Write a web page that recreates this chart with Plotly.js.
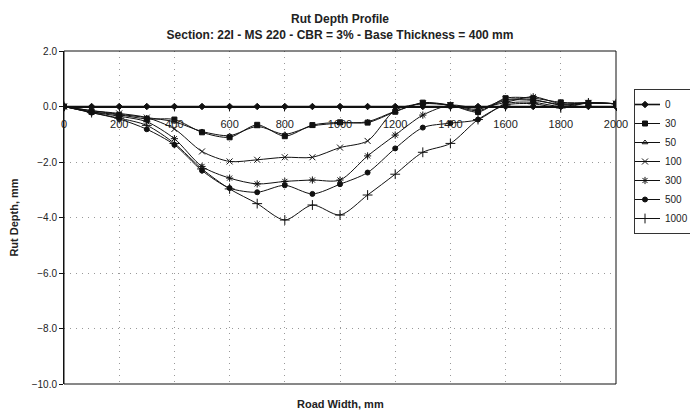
<!DOCTYPE html>
<html>
<head>
<meta charset="utf-8">
<script src="https://cdn.plot.ly/plotly-3.0.1.min.js"></script>
<style>html,body{margin:0;padding:0;background:#fff;}#chart{width:690px;height:415px;}</style>
</head>
<body>
<div id="chart"></div>
<script>
// Road width positions (mm)
const roadWidth = [0,100,200,300,400,500,600,700,800,900,1000,1100,1200,1300,1400,1500,1600,1700,1800,1900,2000];
// Rut depth (mm) for each number of passes
const rut0    = [0,0,0,0,0,0,0,0,0,0,0,0,0,0,0,0,0,0,0,0,0];
const rut30   = [0,-0.19,-0.3,-0.45,-0.47,-0.93,-1.11,-0.66,-1.07,-0.67,-0.57,-0.58,-0.19,0.14,0.05,-0.2,0.3,0.3,0.15,0.13,0.1];
const rut50   = [0,-0.15,-0.28,-0.4,-0.55,-0.9,-1.05,-0.72,-1.0,-0.7,-0.6,-0.55,-0.17,0.12,0.04,-0.15,0.22,0.22,0.08,0.13,0.1];
const rut100  = [0,-0.15,-0.25,-0.4,-0.81,-1.62,-1.98,-1.92,-1.83,-1.83,-1.48,-1.24,-0.13,0.1,0.05,-0.1,0.25,0.25,0.05,0.13,0.1];
const rut300  = [0,-0.2,-0.35,-0.55,-1.16,-2.16,-2.58,-2.79,-2.7,-2.65,-2.65,-1.78,-1.03,-0.31,0.05,-0.05,0.15,0.35,0.1,0.13,0.1];
const rut500  = [0,-0.22,-0.45,-0.82,-1.38,-2.31,-2.94,-3.09,-2.84,-3.15,-2.8,-2.38,-1.51,-0.76,-0.6,-0.47,0.1,0.15,0.0,0.13,0.1];
const rut1000 = [0,-0.22,-0.42,-0.68,-1.33,-2.25,-2.97,-3.5,-4.09,-3.55,-3.91,-3.19,-2.44,-1.65,-1.33,-0.47,0.05,0.1,-0.05,0.13,0.1];
const seriesNames = ['0','30','50','100','300','500','1000'];
const seriesData = [rut0, rut30, rut50, rut100, rut300, rut500, rut1000];
const xTicks = [0,200,400,600,800,1000,1200,1400,1600,1800,2000];
const yTicks = [2,0,-2,-4,-6,-8,-10];

const markerSymbols = ['diamond','square','triangle-up-open','x-thin-open','asterisk-open','circle','cross-thin-open'];
const markerSizes = [5,5,5,6,6,5,7];
const lineWidths = [1.6,1,1,1,1,1,1];

const traces = seriesNames.map((name,i)=>({
  type:'scatter', mode:'lines+markers', name:name,
  x: roadWidth, y: seriesData[i],
  line:{color:'#111', width:lineWidths[i], shape:'spline', smoothing:0.8},
  marker:{symbol:markerSymbols[i], size:markerSizes[i], color:'#111', line:{color:'#111', width:1}}
}));

const font = "Arial, 'Liberation Sans', sans-serif";
const layout = {
  width:690, height:415,
  margin:{l:64, r:74, t:51, b:31, autoexpand:false},
  paper_bgcolor:'#fff', plot_bgcolor:'#fff',
  font:{family:font, color:'#222'},
  title:{text:'Rut Depth Profile<br>Section: 22I - MS 220 - CBR = 3% - Base Thickness = 400 mm',
         font:{size:12, weight:'bold', color:'#222'}, x:0.5, xref:'paper',
         y:1-23/415, yref:'container', yanchor:'middle'},
  xaxis:{range:[0,2000], tickvals:xTicks, ticktext:xTicks.map(String),
         anchor:'free', position:(0-(-10))/12, showline:true, linecolor:'#111', linewidth:1.5,
         ticks:'outside', ticklen:3, tickcolor:'#111', ticklabelstandoff:4,
         showgrid:true, gridcolor:'#999', griddash:'1px,5px', gridwidth:1, zeroline:false,
         tickfont:{size:11, color:'#222'}},
  yaxis:{range:[-10,2], tickvals:yTicks, tickformat:'.1f', showline:true, linecolor:'#111', linewidth:1,
         ticks:'outside', ticklen:4, tickcolor:'#111',
         showgrid:true, gridcolor:'#999', griddash:'1px,5px', gridwidth:1, zeroline:false,
         tickfont:{size:10, color:'#222'},
         title:{text:'Rut Depth, mm', font:{size:11, weight:'bold', color:'#222'}, standoff:10}},
  legend:{x:(634-64)/552, y:(384-89)/333, xanchor:'left', yanchor:'top', bordercolor:'#333', borderwidth:1,
          bgcolor:'#fff', font:{size:10, color:'#222'}, tracegroupgap:0, itemwidth:30, indentation:-10},
  shapes:[{type:'rect', xref:'paper', yref:'paper', x0:0, y0:0, x1:1, y1:1, line:{color:'#111', width:1}}],
  annotations:[{text:'Road Width, mm', xref:'paper', yref:'paper', x:0.5, y:-20/333, yanchor:'middle',
                showarrow:false, font:{size:11, weight:'bold', color:'#222'}}]
};
Plotly.newPlot('chart', traces, layout, {displayModeBar:false, staticPlot:true});
</script>
</body>
</html>
